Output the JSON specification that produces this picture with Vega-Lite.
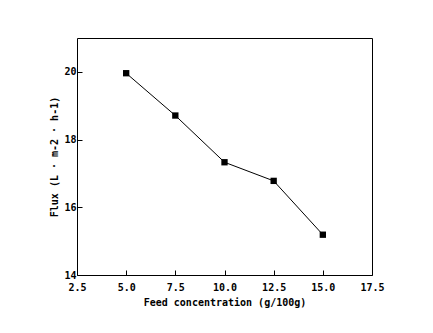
{
  "$schema": "https://vega.github.io/schema/vega-lite/v6.json",
  "width": 295,
  "height": 237,
  "autosize": {"type": "none"},
  "padding": {"left": 77, "top": 38, "right": 61, "bottom": 58},
  "background": "white",
  "config": {
    "view": {"stroke": "black", "strokeWidth": 1},
    "axis": {
      "domain": false,
      "grid": false,
      "ticks": true,
      "tickColor": "black",
      "tickSize": -5,
      "labelFont": "DejaVu Sans Mono",
      "labelFontWeight": "bold",
      "labelFontSize": 10,
      "labelColor": "black",
      "titleFont": "DejaVu Sans Mono",
      "titleFontWeight": "bold",
      "titleFontSize": 10,
      "titleColor": "black"
    }
  },
  "data": {
    "values": [
      {"conc": 5.0, "flux": 19.96},
      {"conc": 7.5, "flux": 18.71},
      {"conc": 10.0, "flux": 17.33},
      {"conc": 12.5, "flux": 16.78},
      {"conc": 15.0, "flux": 15.19}
    ]
  },
  "encoding": {
    "x": {
      "field": "conc",
      "type": "quantitative",
      "scale": {"domain": [2.5, 17.5], "nice": false, "zero": false},
      "axis": {
        "values": [2.5, 5, 7.5, 10, 12.5, 15, 17.5],
        "format": ".1f",
        "title": "Feed concentration (g/100g)",
        "labelPadding": 12,
        "titlePadding": 5,
        "labelFlush": false
      }
    },
    "y": {
      "field": "flux",
      "type": "quantitative",
      "scale": {"domain": [14, 21], "nice": false, "zero": false},
      "axis": {
        "values": [14, 16, 18, 20],
        "format": "d",
        "title": "Flux (L · m-2 · h-1)",
        "labelPadding": 6,
        "titlePadding": 4,
        "labelFlush": false
      }
    }
  },
  "layer": [
    {"mark": {"type": "line", "color": "black", "strokeWidth": 1}},
    {"mark": {"type": "point", "shape": "square", "filled": true, "color": "black", "size": 40, "opacity": 1}}
  ]
}
